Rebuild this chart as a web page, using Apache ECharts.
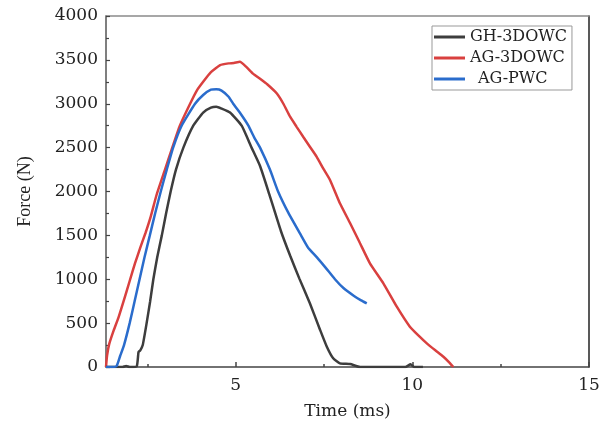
<!DOCTYPE html>
<html>
<head>
<meta charset="utf-8">
<script src="https://cdn.jsdelivr.net/npm/echarts@6/dist/echarts.min.js"></script>
<style>html,body{margin:0;padding:0;background:#fff;}#chart{width:613px;height:428px;}</style>
</head>
<body>
<div id="chart"></div>
<script>
// Series names
const seriesNames = ['GH-3DOWC', 'AG-3DOWC', 'AG-PWC'];

// GH-3DOWC: time (ms) and force (N)
const ghTime  = [1.33, 1.8, 1.9, 2.0, 2.2, 2.25, 2.3, 2.37, 2.48, 2.58, 2.67, 2.78, 2.91, 3.03, 3.16, 3.31, 3.52, 3.80, 4.08, 4.30, 4.45, 4.60, 4.84, 5.17, 5.45, 5.69, 5.95, 6.28, 6.54, 6.80, 7.10, 7.39, 7.58, 7.76, 7.95, 8.24, 8.52, 9.80, 9.95, 10.05, 10.30];
const ghForce = [0, 0, 12, 0, 8, 170, 190, 250, 500, 750, 1000, 1250, 1500, 1750, 2000, 2250, 2500, 2750, 2900, 2955, 2965, 2945, 2900, 2750, 2500, 2290, 1970, 1550, 1270, 1010, 726, 422, 231, 99, 42, 34, 0, 0, 30, 0, 0];

// AG-3DOWC
const ag3Time  = [1.33, 1.36, 1.42, 1.55, 1.68, 1.85, 2.0, 2.15, 2.3, 2.45, 2.6, 2.76, 3.0, 3.19, 3.42, 3.71, 3.9, 4.08, 4.3, 4.56, 4.8, 4.95, 5.12, 5.3, 5.5, 5.69, 5.9, 6.16, 6.35, 6.54, 6.72, 6.91, 7.1, 7.29, 7.48, 7.67, 7.95, 8.24, 8.52, 8.8, 9.18, 9.56, 9.93, 10.17, 10.41, 10.65, 10.88, 11.05, 11.16];
const ag3Force = [0, 130, 260, 420, 560, 780, 980, 1180, 1360, 1530, 1720, 1960, 2250, 2480, 2750, 3000, 3150, 3250, 3360, 3440, 3460, 3465, 3478, 3420, 3340, 3285, 3220, 3119, 3000, 2852, 2740, 2624, 2510, 2397, 2260, 2131, 1865, 1638, 1410, 1182, 954, 687, 459, 360, 269, 190, 117, 50, 0];

// AG-PWC
const pwcTime  = [1.33, 1.5, 1.63, 1.73, 1.84, 2.0, 2.14, 2.28, 2.42, 2.57, 2.72, 2.88, 3.05, 3.23, 3.47, 3.85, 4.08, 4.30, 4.45, 4.60, 4.80, 4.93, 5.15, 5.36, 5.52, 5.69, 5.97, 6.20, 6.50, 6.85, 7.05, 7.30, 7.55, 7.81, 8.05, 8.35, 8.55, 8.71];
const pwcForce = [0, 0, 10, 125, 250, 500, 750, 1000, 1250, 1500, 1750, 2000, 2250, 2500, 2750, 3000, 3100, 3160, 3165, 3150, 3080, 3000, 2880, 2750, 2620, 2500, 2250, 2000, 1750, 1500, 1360, 1250, 1130, 1000, 900, 810, 760, 726];

// Axis ticks
const xLabelValues = [5, 10, 15];
const xMinorValues = [2.5, 7.5, 12.5];
const xMin = 1.33, xMax = 15;
const yMin = 0, yMax = 4000, yStep = 500;

const colors = ['#3d3d3d', '#d9403f', '#2a6ccc'];

function pairs(t, f) { return t.map((v, i) => [v, f[i]]); }

const chart = echarts.init(document.getElementById('chart'), null, {renderer: 'canvas'});
const serif = 'DejaVu Serif';
chart.setOption({
  animation: false,
  backgroundColor: '#fff',
  grid: {left: 106, right: 24, top: 16, bottom: 61, containLabel: false},
  legend: {
    orient: 'vertical', left: 432, top: 26,
    padding: [3, 5, 3, 2],
    borderColor: '#999', borderWidth: 1, backgroundColor: '#fff',
    icon: 'rect', itemWidth: 31, itemHeight: 3, itemGap: 5, itemTextGap: 2,
    textStyle: {fontFamily: serif, fontSize: 16, color: '#222'},
    data: [
      {name: seriesNames[0]},
      {name: seriesNames[1]},
      {name: seriesNames[2], textStyle: {padding: [0, 0, 0, 8]}}
    ]
  },
  xAxis: [
    {
      type: 'value', min: xMin, max: xMax, position: 'bottom',
      name: 'Time (ms)', nameLocation: 'middle', nameGap: 36,
      nameTextStyle: {fontFamily: serif, fontSize: 17, color: '#222'},
      axisLine: {show: true, lineStyle: {color: '#444', width: 1.5}},
      axisTick: {show: true, inside: true, length: 5, customValues: xLabelValues, lineStyle: {color: '#444', width: 1.5}},
      axisLabel: {show: true, customValues: xLabelValues, margin: 10, fontFamily: serif, fontSize: 17, color: '#222',
                  formatter: v => String(v)},
      splitLine: {show: false}
    },
    {
      type: 'value', min: xMin, max: xMax, position: 'bottom',
      axisLine: {show: false},
      axisTick: {show: true, inside: true, length: 3, customValues: xMinorValues, lineStyle: {color: '#444', width: 1.5}},
      axisLabel: {show: false},
      splitLine: {show: false}
    },
    {
      type: 'value', min: xMin, max: xMax, position: 'top',
      axisLine: {show: true, lineStyle: {color: '#8a8a8a', width: 1.5}},
      axisTick: {show: false}, axisLabel: {show: false}, splitLine: {show: false}
    }
  ],
  yAxis: [
    {
      type: 'value', min: yMin, max: yMax, interval: yStep, position: 'left',
      name: 'Force (N)', nameLocation: 'middle', nameGap: 72,
      nameTextStyle: {fontFamily: 'Liberation Serif', fontSize: 18, color: '#222'},
      axisLine: {show: true, lineStyle: {color: '#555', width: 1.5}},
      axisTick: {show: true, inside: true, length: 4, lineStyle: {color: '#444', width: 1.2}},
      minorTick: {show: true, splitNumber: 2, length: 3, lineStyle: {color: '#444', width: 1.2}},
      axisLabel: {margin: 8, fontFamily: serif, fontSize: 17, color: '#222', formatter: v => String(v)},
      splitLine: {show: false}
    },
    {
      type: 'value', min: yMin, max: yMax, position: 'right',
      axisLine: {show: true, lineStyle: {color: '#222', width: 1.5}},
      axisTick: {show: false}, axisLabel: {show: false}, splitLine: {show: false}
    }
  ],
  series: [
    {name: seriesNames[0], type: 'line', data: pairs(ghTime, ghForce), xAxisIndex: 0, yAxisIndex: 0,
     showSymbol: false, symbol: 'none', smooth: 0.15, color: colors[0], lineStyle: {width: 2.5, color: colors[0]}, z: 3},
    {name: seriesNames[1], type: 'line', data: pairs(ag3Time, ag3Force), xAxisIndex: 0, yAxisIndex: 0,
     showSymbol: false, symbol: 'none', smooth: 0.15, color: colors[1], lineStyle: {width: 2.5, color: colors[1]}, z: 2},
    {name: seriesNames[2], type: 'line', data: pairs(pwcTime, pwcForce), xAxisIndex: 0, yAxisIndex: 0,
     showSymbol: false, symbol: 'none', smooth: 0.15, color: colors[2], lineStyle: {width: 2.5, color: colors[2]}, z: 4}
  ]
});
</script>
</body>
</html>
